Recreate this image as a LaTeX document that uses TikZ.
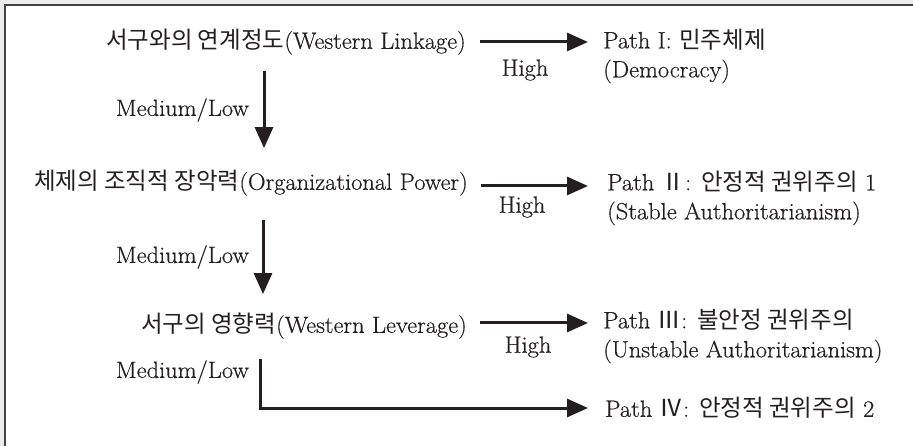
\documentclass[tikz,border=0pt]{standalone}
\usepackage{fontspec}
\setmainfont{Latin Modern Roman}[FakeStretch=1.04,FakeBold=0.5]
\newfontfamily\kr{Noto Sans CJK KR}
\usetikzlibrary{arrows.meta}
\definecolor{ink}{HTML}{231F20}
\tikzset{
  txt/.style={inner sep=0pt, text=ink, font=\fontsize{23.5}{29}\selectfont},
  pathtxt/.style={txt, align=left, anchor=west},
  arr/.style={draw=ink, line width=3pt, -{Triangle[length=21pt,width=18pt]}},
  elbow/.style={draw=ink, line width=3pt, -{Triangle[length=21pt,width=18pt]}},
  frameline/.style={draw=ink!85, line width=2pt}
}
\begin{document}
\begin{tikzpicture}[x=1pt,y=-1pt]
\useasboundingbox (0,0) rectangle (913,446);
\fill[black!8] (0,0) rectangle (913,446);
\fill[white] (5,5) rectangle (913,446);
\draw[frameline] (5,446) -- (5,5) -- (913,5);

% left column
\node[txt, anchor=east] (L1) at (466,42) {{\kr 서구와의 연계정도}(Western Linkage)};
\node[txt, anchor=east] (L2) at (468,183) {{\kr 체제의 조직적 장악력}(Organizational Power)};
\node[txt, anchor=east] (L3) at (467,326) {{\kr 서구의 영향력}(Western Leverage)};

% right column
\node[pathtxt] (P1) at (603,56) {Path I: {\kr 민주체제}\\(Democracy)};
\node[pathtxt] (P2) at (607,198) {Path {\kr Ⅱ}: {\kr 안정적 권위주의} 1\\(Stable Authoritarianism)};
\node[pathtxt] (P3) at (603,336) {Path {\kr Ⅲ}: {\kr 불안정 권위주의}\\(Unstable Authoritarianism)};
\node[pathtxt] (P4) at (605,408) {Path {\kr Ⅳ}: {\kr 안정적 권위주의} 2};

% labels
\node[txt] (H1) at (525,70) {High};
\node[txt] (H2) at (522,207) {High};
\node[txt] (H3) at (528,347) {High};
\node[txt, anchor=east] (M1) at (249,110) {Medium/Low};
\node[txt, anchor=east] (M2) at (249,257) {Medium/Low};
\node[txt, anchor=east] (M3) at (249,372) {Medium/Low};

% column positions for vertical connectors
\coordinate (v1) at (264,0);
\coordinate (v2) at (263,0);
\coordinate (v3) at (260,0);

% horizontal connectors
\draw[arr, shorten <=14pt, shorten >=15pt] (L1.east) -- (L1.east -| P1.west);
\draw[arr, shorten <=13pt, shorten >=19pt] (L2.east) ++(0,3) -- (P2.west |- 0,186);
\draw[arr, shorten <=13pt, shorten >=15pt] (L3.east) ++(0,-3) -- (P3.west |- 0,323);

% vertical connectors
\draw[arr, shorten <=16pt, shorten >=22pt] (v1 |- L1.south) -- (v1 |- L2.north);
\draw[arr, shorten <=24pt, shorten >=19pt] (v2 |- L2.south) -- (v2 |- L3.north);
\draw[elbow, shorten <=20pt, shorten >=17pt] (v3 |- L3.south) |- (P4.west);
\end{tikzpicture}
\end{document}
